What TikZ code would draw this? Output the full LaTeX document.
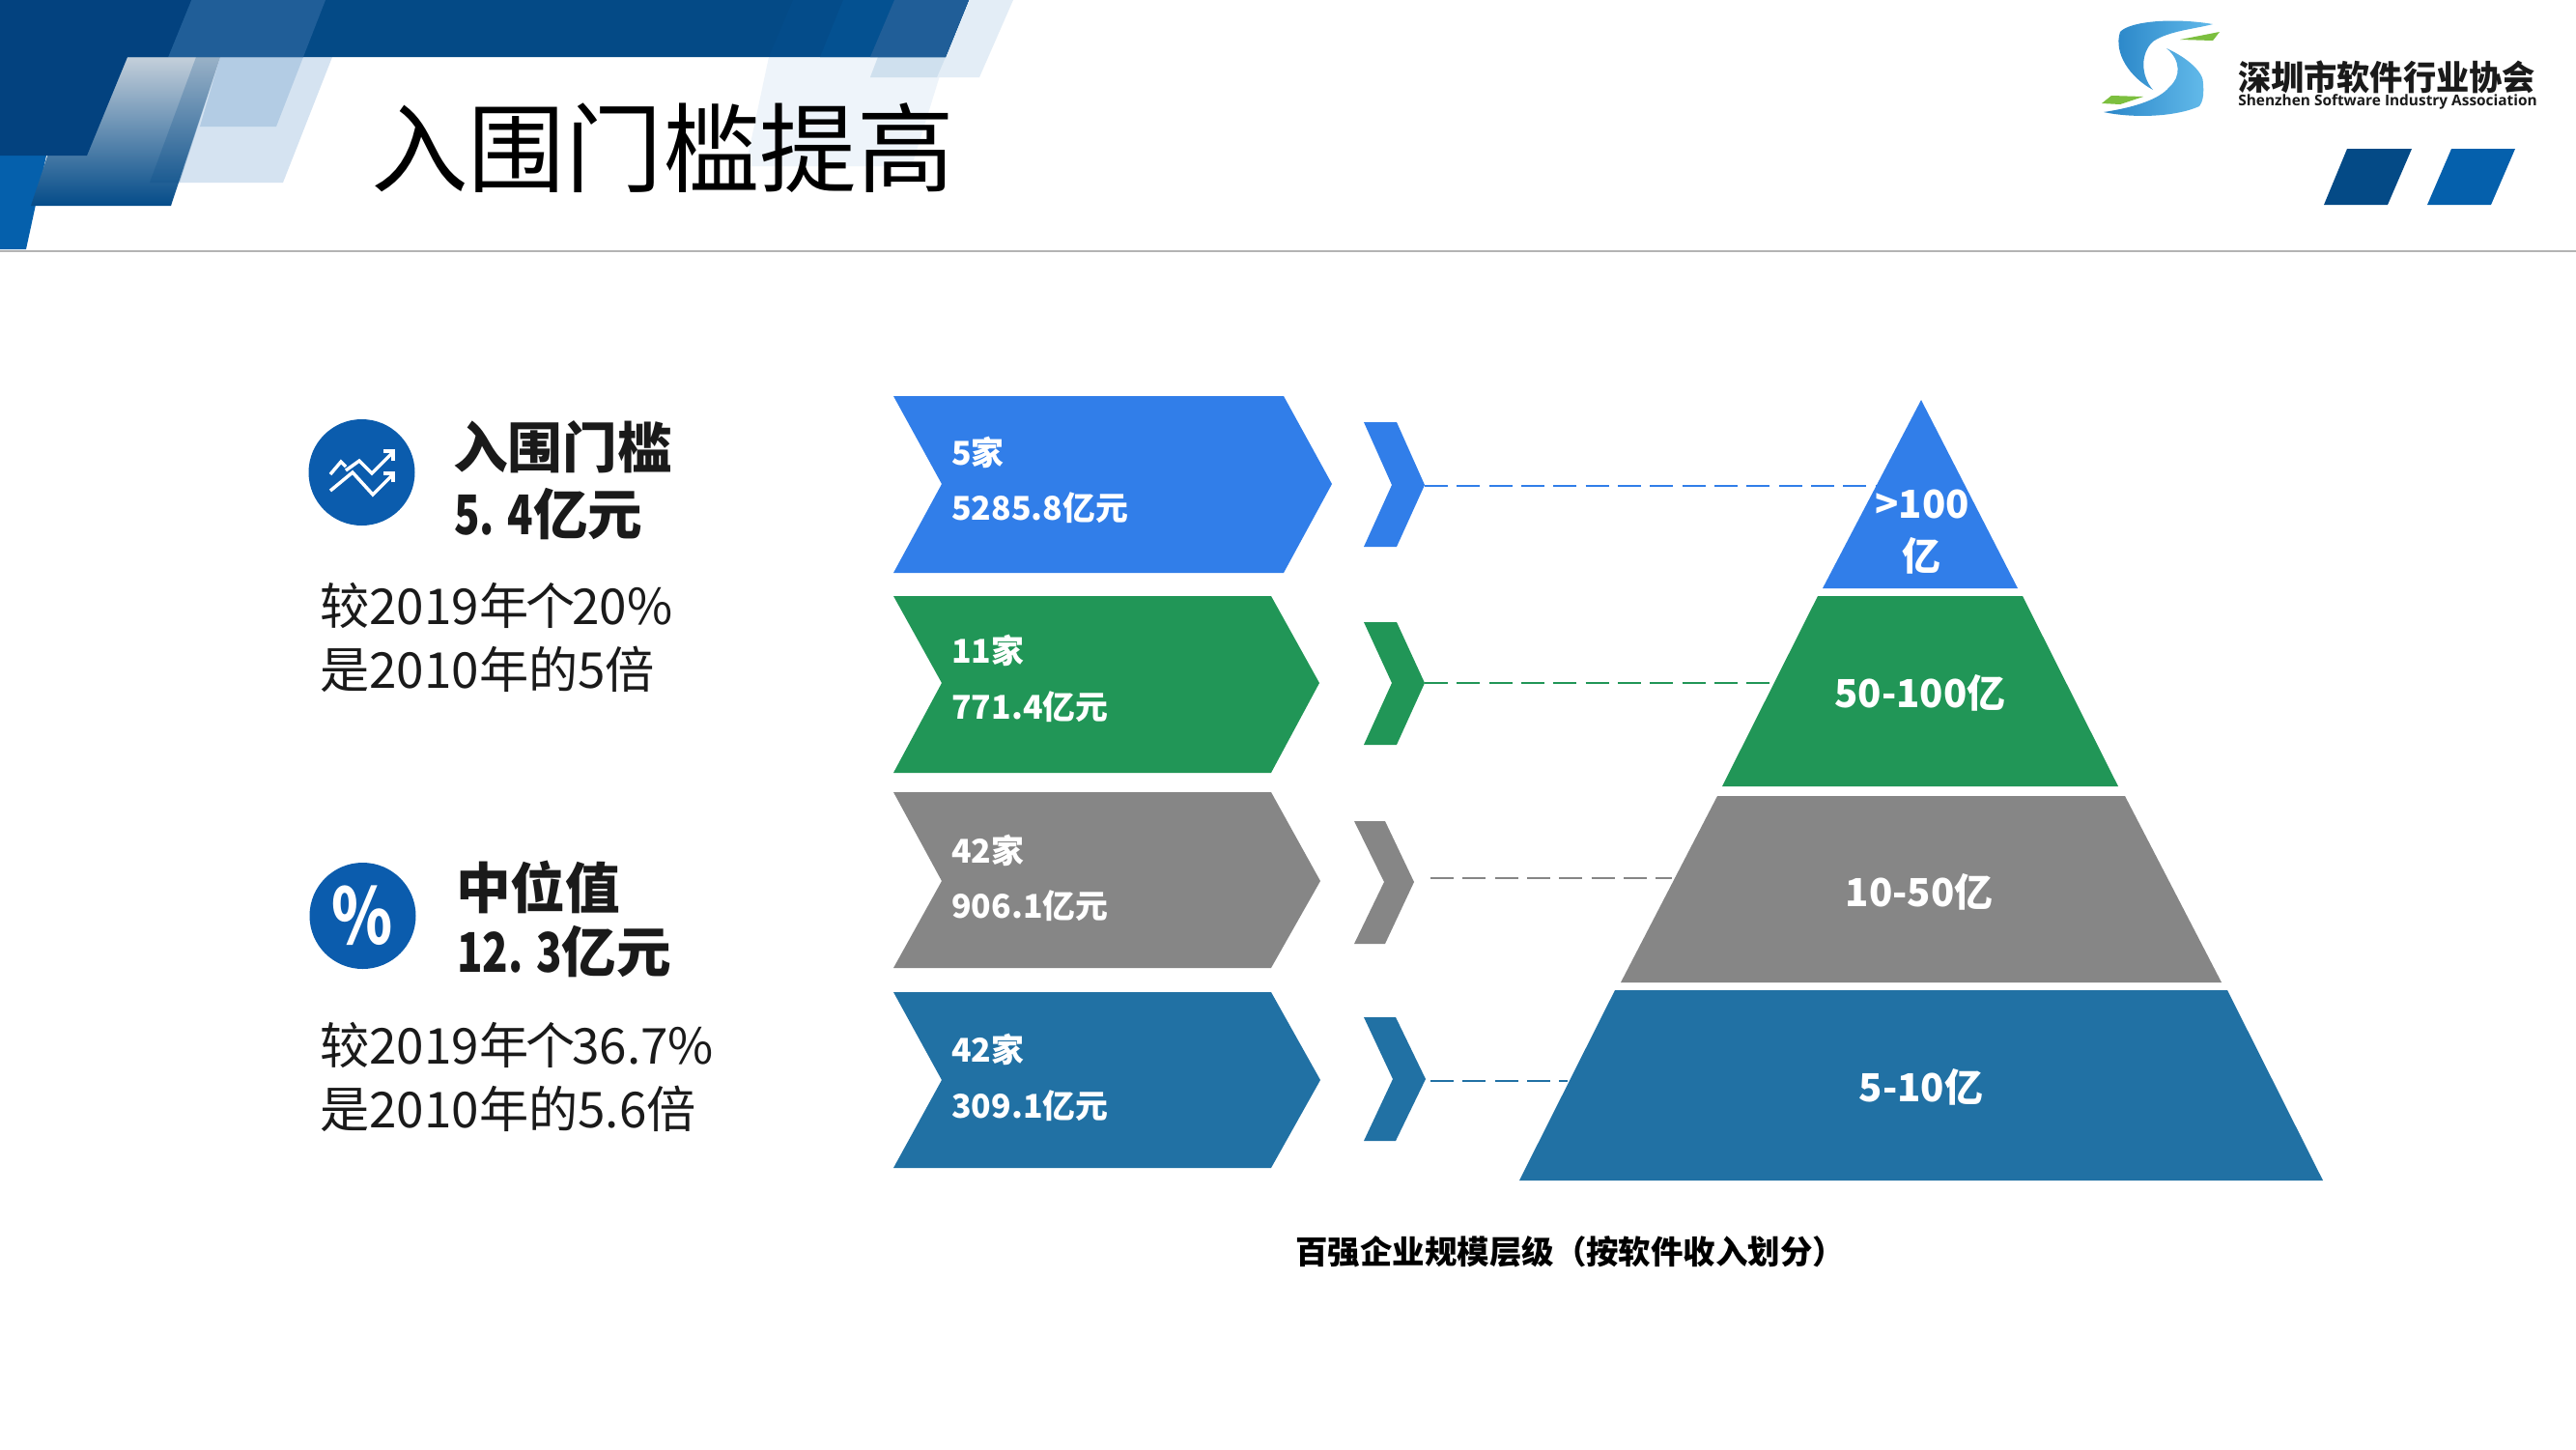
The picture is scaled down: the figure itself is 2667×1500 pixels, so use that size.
\documentclass[tikz,border=0pt]{standalone}
\usepackage{fontspec}
\usepackage{graphicx}
\setmainfont{Noto Sans CJK SC}
\newfontfamily\latinlogo{Open Sans}
\newcommand{\fsz}[1]{\fontsize{#1}{#1}\selectfont}
\newcommand{\narrowdig}[1]{\scalebox{.77}[1]{#1}}
\newcommand{\tightup}{\kern-2.3pt个\kern-2.3pt}
\definecolor{navy}{HTML}{044A86}
\definecolor{navydark}{HTML}{03427F}
\definecolor{navylite}{HTML}{205E98}
\definecolor{midblue}{HTML}{0560AC}
\definecolor{circblue}{HTML}{0B5CAD}
\definecolor{cblue}{HTML}{317EE9}
\definecolor{cgreen}{HTML}{219657}
\definecolor{cgray}{HTML}{868686}
\definecolor{cteal}{HTML}{2171A4}
\definecolor{inkdark}{HTML}{1A1A1A}
\definecolor{palea}{HTML}{D5E3F1}
\definecolor{paleb}{HTML}{B3CCE4}
\definecolor{palec}{HTML}{E3EDF6}
\definecolor{paled}{HTML}{EEF4FA}
\definecolor{paleE}{HTML}{CFE0EE}
\definecolor{ruleg}{HTML}{B4B4B4}
\definecolor{logoblueA}{HTML}{2A86C8}
\definecolor{logoblueB}{HTML}{62BAEA}
\definecolor{logogreen}{HTML}{7CBF3F}
\tikzset{
  x=0.75pt,y=-0.75pt,
  chevtext/.style={anchor=west,text=white,font=\fsz{25.4}\bfseries,inner sep=0pt},
  pyrtext/.style={anchor=center,text=white,font=\fsz{30}\bfseries,inner sep=0pt},
  headtext/.style={anchor=west,text=inkdark,font=\fsz{42.5}\bfseries,inner sep=0pt},
  subtext/.style={anchor=west,text=inkdark,font=\fsz{38.4},inner sep=0pt},
  dashlink/.style={line width=1.6pt,dash pattern=on 18pt off 7pt},
  iconline/.style={draw=white,line width=2.6pt,line join=miter},
}
\begin{document}
\begin{tikzpicture}
\useasboundingbox (0,0) rectangle (2667,1500);
\fill[white] (0,0) rectangle (2667,1500);

% header decoration, left
\fill[palea] (132,59) -- (344,59) -- (293,189) -- (186,189) -- cycle;
\fill[paleb] (228,59) -- (314,59) -- (286,131) -- (207,131) -- cycle;
\fill[midblue] (0,161) -- (48,161) -- (27,258) -- (0,258) -- cycle;
\fill[midblue] (0,59) -- (10,59) -- (0,105) -- cycle;
\shade[top color=palea!80!gray,bottom color=navy!92!midblue] (83,59) -- (228,59) -- (177,213) -- (32,213) -- cycle;
\fill[navy,opacity=.22] (203,59) -- (228,59) -- (186,189) -- (155,189) -- cycle;
\fill[navy] (0,0) -- (1003,0) -- (979,59) -- (0,59) -- cycle;
\fill[navylite] (198,0) -- (337,0) -- (314,59) -- (174,59) -- cycle;
\fill[navydark] (0,0) -- (198,0) -- (174,59) -- (132,59) -- (90,161) -- (0,161) -- cycle;

% header decoration, right of title
\fill[paled] (796,59) -- (979,59) -- (944,172) -- (772,172) -- cycle;
\fill[palec] (1003,0) -- (1049,0) -- (1014,80) -- (901,80) -- (909,59) -- (979,59) -- cycle;
\fill[paleE] (909,59) -- (979,59) -- (970,80) -- (901,80) -- cycle;
\fill[navy!90!midblue] (821,0) -- (1003,0) -- (979,59) -- (796,59) -- cycle;
\fill[navy!70!midblue] (873,0) -- (1003,0) -- (979,59) -- (849,59) -- cycle;
\fill[navylite] (926,0) -- (1003,0) -- (979,59) -- (901,59) -- cycle;

% rule
\draw[ruleg,line width=1.8pt] (0,260) -- (2667,260);

% title
\node[anchor=west,inner sep=0pt,text=black,font=\fsz{75.5}] (title) at (384,153) {入围门槛提高};

% logo
\shade[left color=logoblueA,right color=logoblueB]
  (2291,25) .. controls (2250,18) and (2205,22) .. (2195,33)
  .. controls (2188,55) and (2205,80) .. (2229,93)
  .. controls (2216,78) and (2216,55) .. (2229,43)
  .. controls (2245,32) and (2272,30) .. (2291,25) -- cycle;
\shade[left color=logoblueA,right color=logoblueB]
  (2243,50) .. controls (2265,60) and (2282,75) .. (2281,87)
  .. controls (2282,100) and (2280,106) .. (2277,110)
  .. controls (2250,122) and (2205,122) .. (2178,116)
  .. controls (2205,112) and (2235,104) .. (2246,90)
  .. controls (2258,80) and (2258,62) .. (2243,50) -- cycle;
\fill[logogreen] (2298,33) -- (2291,42) -- (2257,41) -- cycle;
\fill[logogreen] (2176,107) -- (2186,99) -- (2219,100) -- (2195,108) -- cycle;
\node[inner sep=0pt,text=inkdark] (logocn) at (2471,80) {\resizebox{231pt}{23pt}{\fsz{24}\bfseries 深圳市软件行业协会}};
\node[inner sep=0pt,text=inkdark] (logoen) at (2472,105) {\resizebox{232pt}{!}{\latinlogo\fsz{12}\bfseries Shenzhen Software Industry Association}};

% parallelograms
\fill[navy] (2430,154) -- (2497,154) -- (2472,212) -- (2406,212) -- cycle;
\fill[midblue] (2538,154) -- (2604,154) -- (2579,212) -- (2513,212) -- cycle;

% left panel, first block
\fill[circblue] (374.5,489) circle[radius=55];
\draw[iconline] (342,491) -- (353,478) -- (358,483);
\draw[iconline] (358,487) -- (372,477) -- (385,490) -- (407,468);
\draw[iconline] (342,508) -- (365,489) -- (386,512) -- (407,491);
\draw[iconline] (397,467) -- (407,467) -- (407,477);
\draw[iconline] (397,490) -- (407,490) -- (407,499);
\node[headtext] (h1a) at (469,463) {入围门槛};
\node[headtext] (h1b) at (470,532) {\narrowdig{5. 4}亿元};
\node[subtext] (s1a) at (331,627) {较2019年\tightup 20\%};
\node[subtext] (s1b) at (331,693) {是2010年的5倍};

% left panel, second block
\fill[circblue] (375.5,948) circle[radius=55];
\node[inner sep=0pt,text=white,font=\fsz{60}\bfseries] (pct) at (375,948) {\scalebox{.8}[1]{\%}};
\node[headtext] (h2a) at (472,918) {中位值};
\node[headtext] (h2b) at (473,985) {\narrowdig{12. 3}亿元};
\node[subtext] (s2a) at (331,1082) {较2019年\tightup 36.7\%};
\node[subtext] (s2b) at (331,1148) {是2010年的5.6倍};

% large chevrons
\fill[cblue] (925,410) -- (1329,410) -- (1379,501) -- (1329,593) -- (925,593) -- (975,501) -- cycle;
\fill[cgreen] (925,617) -- (1316,617) -- (1366,707) -- (1316,800) -- (925,800) -- (975,707) -- cycle;
\fill[cgray] (925,820) -- (1316,820) -- (1367,912) -- (1316,1002) -- (925,1002) -- (975,912) -- cycle;
\fill[cteal] (925,1027) -- (1316,1027) -- (1367,1118) -- (1316,1209) -- (925,1209) -- (975,1118) -- cycle;

\node[chevtext] (c1a) at (985,468) {5家};
\node[chevtext] (c1b) at (985,526) {5285.8亿元};
\node[chevtext] (c2a) at (985,673) {11家};
\node[chevtext] (c2b) at (985,732) {771.4亿元};
\node[chevtext] (c3a) at (985,880) {42家};
\node[chevtext] (c3b) at (985,938) {906.1亿元};
\node[chevtext] (c4a) at (985,1086) {42家};
\node[chevtext] (c4b) at (985,1145) {309.1亿元};

% small chevrons
\fill[cblue] (1412,437) -- (1446,437) -- (1475,502) -- (1446,566) -- (1412,566) -- (1441,502) -- cycle;
\fill[cgreen] (1412,644) -- (1446,644) -- (1475,707) -- (1446,771) -- (1412,771) -- (1441,707) -- cycle;
\fill[cgray] (1402,850) -- (1434,850) -- (1464,913) -- (1434,977) -- (1402,977) -- (1433,913) -- cycle;
\fill[cteal] (1412,1053) -- (1445,1053) -- (1476,1117) -- (1445,1181) -- (1412,1181) -- (1442,1117) -- cycle;

% connector ends
\coordinate (t1) at (1475,503);
\coordinate (p1) at (1942,503);
\coordinate (t2) at (1475,707);
\coordinate (p2) at (1837,707);
\coordinate (t3) at (1481,909);
\coordinate (p3) at (1731,909);
\coordinate (t4) at (1481,1119);
\coordinate (p4) at (1623,1119);
\draw[dashlink,cblue] (t1) -- (p1);
\draw[dashlink,cgreen] (t2) -- (p2);
\draw[dashlink,cgray] (t3) -- (p3);
\draw[dashlink,cteal] (t4) -- (p4);

% pyramid
\fill[cblue] (1989,414) -- (2089,609) -- (1887,609) -- cycle;
\fill[cgreen] (1882,617) -- (2094,617) -- (2193,814) -- (1783,814) -- cycle;
\fill[cgray] (1778,824) -- (2200,824) -- (2300,1017) -- (1678,1017) -- cycle;
\fill[cteal] (1672,1025) -- (2306,1025) -- (2405,1222) -- (1573,1222) -- cycle;

\node[pyrtext] (y1a) at (1990,522) {>100};
\node[pyrtext] (y1b) at (1989,575) {亿};
\node[pyrtext] (y2) at (1988,717) {50-100亿};
\node[pyrtext] (y3) at (1987,923) {10-50亿};
\node[pyrtext] (y4) at (1989,1125) {5-10亿};

% caption
\node[anchor=west,inner sep=0pt,text=black,font=\fsz{25.1}\bfseries] (cap) at (1341,1296) {百强企业规模层级（按软件收入划分）};
\end{tikzpicture}
\end{document}
